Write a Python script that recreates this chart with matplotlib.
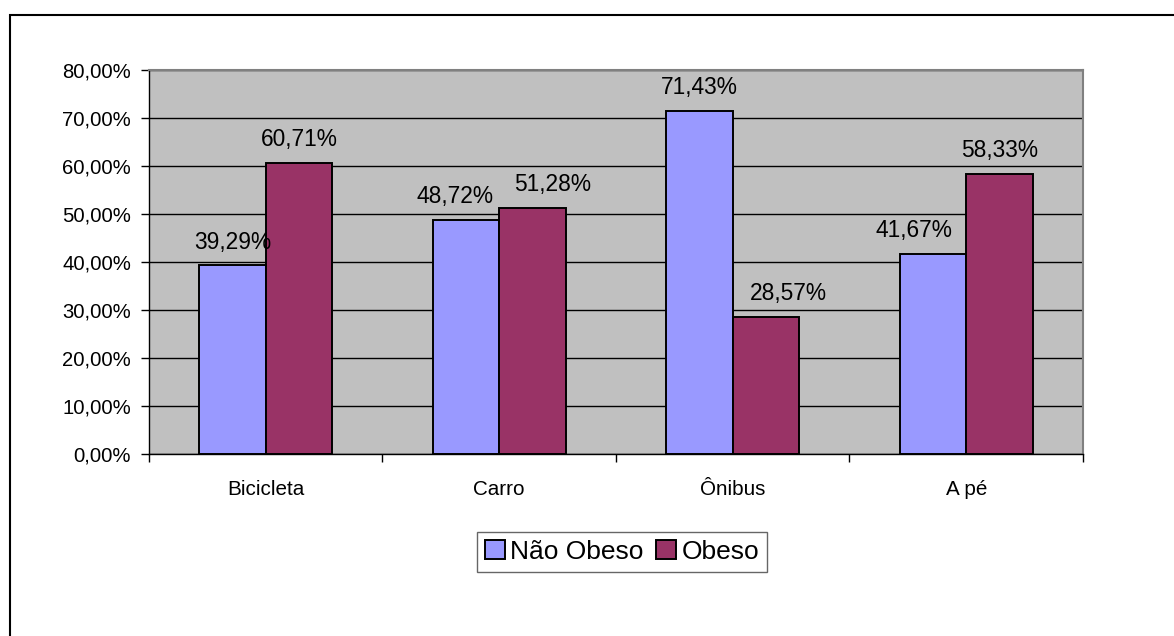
import matplotlib
matplotlib.use("Agg")
import matplotlib.pyplot as plt
from matplotlib.patches import Rectangle
from matplotlib.ticker import FixedLocator, NullFormatter

plt.rcParams['font.family'] = ['Liberation Sans', 'DejaVu Sans']

categories = ["Bicicleta", "Carro", "Ônibus", "A pé"]
nao_obeso = [39.29, 48.72, 71.43, 41.67]
obeso = [60.71, 51.28, 28.57, 58.33]
series_names = ["Não Obeso", "Obeso"]
y_ticks = [0, 10, 20, 30, 40, 50, 60, 70, 80]

# horizontal nudges (points) that keep neighbouring value labels apart
nudge_nao = [0, -8, 0, -13.5]
nudge_obeso = [0, 14.5, 16, 0]

def pct(v):
    return f"{v:.2f}".replace(".", ",") + "%"

W, H = 1174, 636
fig = plt.figure(figsize=(W / 100, H / 100), dpi=100)
fig.patch.set_facecolor("white")

# outer chart frame (extends past the right and bottom edges)
fig.patches.append(Rectangle((10 / W, -0.1), 1.2, 1.1 - 15 / H,
                             transform=fig.transFigure, fill=False,
                             edgecolor="black", linewidth=1.5, clip_on=False))

ax = fig.add_axes([149 / W, (H - 454) / H, (1083 - 149) / W, (454 - 70) / H])
ax.set_facecolor("#C0C0C0")

x = list(range(len(categories)))
bw = 1 / 3.5
b1 = ax.bar([i - bw / 2 for i in x], nao_obeso, width=bw, color="#9999FF",
            edgecolor="black", linewidth=1.4, zorder=3, label=series_names[0])
b2 = ax.bar([i + bw / 2 for i in x], obeso, width=bw, color="#993366",
            edgecolor="black", linewidth=1.4, zorder=3, label=series_names[1])

for bars, vals, nudges in ((b1, nao_obeso, nudge_nao), (b2, obeso, nudge_obeso)):
    for rect, v, dx in zip(bars, vals, nudges):
        ax.annotate(pct(v), (rect.get_x() + rect.get_width() / 2, v),
                    xytext=(dx, 8.5), textcoords="offset points",
                    ha="center", va="bottom", fontsize=16.4, zorder=4)

ax.set_xlim(-0.5, len(categories) - 0.5)
ax.set_ylim(0, 80)
ax.set_yticks(y_ticks)
ax.set_yticklabels([pct(v) for v in y_ticks], fontsize=14.6)
ax.yaxis.grid(True, color="black", linewidth=1.0, zorder=1)
ax.set_axisbelow(True)

ax.set_xticks(x)
ax.set_xticklabels(categories, fontsize=14.9)
ax.tick_params(axis="x", which="major", length=0, pad=18.5)
ax.xaxis.set_minor_locator(FixedLocator([i - 0.5 for i in range(len(categories) + 1)]))
ax.xaxis.set_minor_formatter(NullFormatter())
ax.tick_params(axis="x", which="minor", length=6, width=1, color="black", direction="out")
ax.tick_params(axis="y", length=6, width=1, color="black", direction="out", pad=7)

for side in ("top", "right"):
    ax.spines[side].set_color("#808080")
    ax.spines[side].set_linewidth(1.5)
for side in ("left", "bottom"):
    ax.spines[side].set_color("black")
    ax.spines[side].set_linewidth(1.0)

leg = fig.legend(loc="center", bbox_to_anchor=(622 / W, (H - 552) / H),
                 ncol=2, fontsize=19, frameon=True, fancybox=False,
                 handlelength=0.75, handleheight=0.75, handletextpad=0.2,
                 columnspacing=0.5, borderpad=0.3, borderaxespad=0)
leg.get_frame().set_edgecolor("#404040")
leg.get_frame().set_linewidth(1.0)

fig.savefig("out.png", dpi=100)
